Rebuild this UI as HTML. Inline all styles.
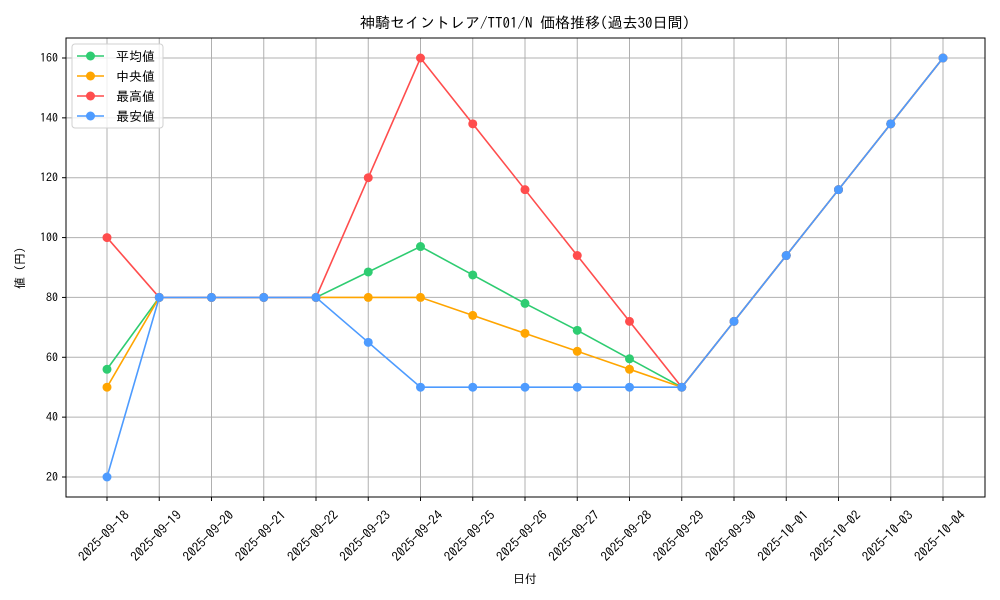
<!DOCTYPE html>
<html><head><meta charset="utf-8"><style>
html,body{margin:0;padding:0;background:#fff}
svg{display:block;font-family:"IPAGothic","Noto Sans CJK JP","Liberation Sans",sans-serif}
</style></head><body>
<svg id="chart" width="1000" height="600" viewBox="0 0 1000 600">
<text x="525" y="28" text-anchor="middle" font-size="15">神騎セイントレア/TT01/N 価格推移(過去30日間)</text>
<g id="grid"></g>
<g id="series"></g>
<rect x="66" y="38" width="919" height="459" fill="none" stroke="#000" stroke-width="1"/>
<g id="ticks"></g>
<text x="525" y="583" text-anchor="middle" font-size="12">日付</text>
<text transform="translate(24,268) rotate(-90)" text-anchor="middle" font-size="12">値 (円)</text>
<g id="legend"></g>
</svg>
<script>
const categories=["2025-09-18","2025-09-19","2025-09-20","2025-09-21","2025-09-22","2025-09-23","2025-09-24","2025-09-25","2025-09-26","2025-09-27","2025-09-28","2025-09-29","2025-09-30","2025-10-01","2025-10-02","2025-10-03","2025-10-04"];
const avgValues=[56,80,80,80,80,88.5,97,87.5,78,69,59.5,50,72,94,116,138,160];
const medianValues=[50,80,80,80,80,80,80,74,68,62,56,50,72,94,116,138,160];
const maxValues=[100,80,80,80,80,120,160,138,116,94,72,50,72,94,116,138,160];
const minValues=[20,80,80,80,80,65,50,50,50,50,50,50,72,94,116,138,160];
const yTicks=[20,40,60,80,100,120,140,160];
const seriesNames=["平均値","中央値","最高値","最安値"];
const seriesColors=["#2ecc71","#ffa500","#ff4d4d","#4d9bff"];

const NS="http://www.w3.org/2000/svg";
function x(i){return 107+i*(943-107)/(categories.length-1);}
function y(v){return 477-(v-20)*(477-58)/140;}
function mk(tag,attrs,parent){const e=document.createElementNS(NS,tag);for(const k in attrs)e.setAttribute(k,attrs[k]);parent.appendChild(e);return e;}
const grid=document.getElementById('grid'),ticks=document.getElementById('ticks'),ser=document.getElementById('series'),leg=document.getElementById('legend');
categories.forEach((c,i)=>{
  const l=mk('line',{x1:x(i),x2:x(i),y1:38,y2:497,stroke:'#b0b0b0','stroke-width':1},grid);
  
  
  const t=mk('line',{x1:x(i),x2:x(i),y1:497,y2:501,stroke:'#000'},ticks);
  
  
  const tx=mk('text',{transform:`translate(${x(i)+23},516) rotate(-45)`,'text-anchor':'end','font-size':13},ticks);
  tx.textContent=c;
  
  
});
yTicks.forEach(v=>{
  const l=mk('line',{x1:66,x2:985,y1:y(v),y2:y(v),stroke:'#b0b0b0','stroke-width':1},grid);
  
  
  const t=mk('line',{x1:62,x2:66,y1:y(v),y2:y(v),stroke:'#000'},ticks);
  
  
  const tx=mk('text',{x:58,y:y(v)+4,'text-anchor':'end','font-size':12},ticks);
  tx.textContent=v;
  
  
});
[avgValues,medianValues,maxValues,minValues].forEach((vals,s)=>{
  const g=mk('g',{},ser);
  
  
  const p=mk('polyline',{points:vals.map((v,i)=>x(i)+','+y(v)).join(' '),fill:'none',stroke:seriesColors[s],'stroke-width':1.6},g);
  
  
  vals.forEach((v,i)=>{
    const c=mk('circle',{cx:x(i),cy:y(v),r:4.5,fill:seriesColors[s]},g);
    
    
  });
});
const box=mk('rect',{x:72,y:44,width:91,height:84,rx:3,fill:'#fff','fill-opacity':0.8,stroke:'#d0d0d0'},leg);


seriesNames.forEach((n,s)=>{
  const yy=56+s*20;
  const g=mk('g',{},leg);
  
  
  mk('line',{x1:77,x2:104,y1:yy,y2:yy,stroke:seriesColors[s],'stroke-width':1.6},g);
  mk('circle',{cx:90.5,cy:yy,r:4.5,fill:seriesColors[s]},g);
  const t=mk('text',{x:116,y:yy+5,'font-size':13},g);
  t.textContent=n;
});
</script>
</body></html>
